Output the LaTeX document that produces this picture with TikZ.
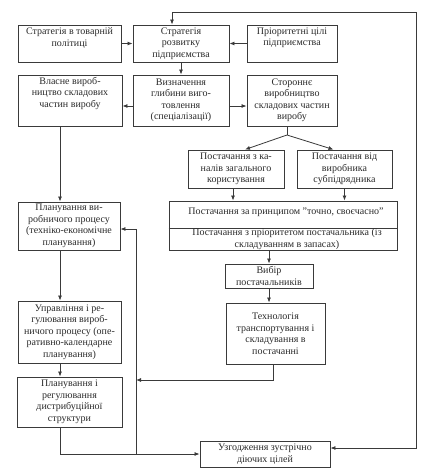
\documentclass[tikz,border=0pt]{standalone}
\usepackage{fontspec}
\setmainfont{Liberation Serif}
\usetikzlibrary{arrows.meta}
\definecolor{lc}{HTML}{3A3A3A}
\definecolor{tc}{HTML}{2A2A2A}
\begin{document}
\begin{tikzpicture}[x=1pt,y=-1pt,
  box/.style={draw=lc, line width=0.9pt, inner sep=1pt, align=center,
    font=\fontsize{10}{11.5}\selectfont, text=tc},
  txt/.style={inner sep=0pt, align=center, font=\fontsize{10}{11.5}\selectfont, text=tc},
  arr/.style={draw=lc, line width=0.8pt, -{Latex[length=5pt,width=4pt]}},
  dbl/.style={draw=lc, line width=0.8pt, {Latex[length=5pt,width=4pt]}-{Latex[length=5pt,width=4pt]}},
  ln/.style={draw=lc, line width=0.8pt}]
\useasboundingbox[fill=white] (0,0) rectangle (442,474);

% top row
\node[box, minimum width=103pt, minimum height=37pt] (b1) at (69.5,43.5) {};
\node[txt, anchor=north] (b1t) at ([yshift=-3pt]b1.north) {Стратегія в товарній\\політиці};
\node[box, minimum width=96pt, minimum height=37pt] (b2) at (181,43.5) {Стратегія\\розвитку\\підприємства};
\node[box, minimum width=90pt, minimum height=37pt] (b3) at (292,43.5) {};
\node[txt, anchor=north] (b3t) at ([yshift=-3pt]b3.north) {Пріоритетні цілі\\підприємства};

% second row
\node[box, minimum width=104pt, minimum height=51pt] (b4) at (70,100.5) {};
\node[txt, anchor=north] (b4t) at ([yshift=-2.5pt]b4.north) {Власне вироб-\\ництво складових\\частин виробу};
\node[box, minimum width=96pt, minimum height=51pt] (b5) at (181,100.5) {Визначення\\глибини виго-\\товлення\\(спеціалізації)};
\node[box, minimum width=90pt, minimum height=51pt] (b6) at (292,100.5) {Стороннє\\виробництво\\складових частин\\виробу};

% supply
\node[box, minimum width=96pt, minimum height=38pt] (b7) at (236,169) {Постачання з ка-\\налів загального\\користування};
\node[box, minimum width=95pt, minimum height=38pt] (b8) at (344.5,169) {Постачання від\\виробника\\субпідрядника};
\node[box, minimum width=228pt, minimum height=49pt] (b9) at (283,225.5) {};
\coordinate (d) at (0,228);
\draw[ln] (b9.west |- d) -- (b9.east |- d);
\node[txt] (b9a) at (286,212) {Постачання за принципом "точно, своєчасно"};
\node[txt] (b9b) at (287,239) {Постачання з пріоритетом постачальника (із\\складуванням в запасах)};
\node[box, minimum width=88pt, minimum height=24pt] (b10) at (269,276) {Вибір\\постачальників};
\node[box, minimum width=99pt, minimum height=61pt] (b11) at (275.5,333.5) {Технологія\\транспортування і\\складування в\\постачанні};

% left column
\node[box, minimum width=102pt, minimum height=48pt] (p1) at (69,226) {Планування ви-\\робничого процесу\\(техніко-економічне\\планування)};
\node[box, minimum width=103pt, minimum height=62pt] (p2) at (69.5,332) {Управління і ре-\\гулювання вироб-\\ничого процесу (опе-\\ративно-календарне\\планування)};
\node[box, minimum width=105pt, minimum height=50pt] (p3) at (69.5,402) {Планування і\\регулювання\\дистрибуційної\\структури};

\node[box, minimum width=130pt, minimum height=26pt] (u) at (265,454) {Узгодження зустрічно\\діючих цілей};

% coordinates
\coordinate (c60) at (60,0);
\coordinate (sp) at (287,135);
\coordinate (j1) at (136,380);
\coordinate (v0) at (136,454);
\coordinate (r1) at (416,448);
\coordinate (r2) at (416,12);
\coordinate (r3) at (172,12);

% connectors top
\draw[arr] (b1.east) -- (b2.west);
\draw[arr] (b3.west) -- (b2.east);
\draw[arr] (b2.south) -- (b5.north);
\draw[arr] ([yshift=-5.5pt]b5.west) -- ([yshift=-5.5pt]b4.east);
\draw[arr] ([yshift=-5.5pt]b5.east) -- ([yshift=-5.5pt]b6.west);

% branch
\draw[ln] (sp |- b6.south) -- (sp);
\draw[arr] (sp) -- ([xshift=9pt]b7.north);
\draw[arr] (sp) -- ([xshift=-11pt]b8.north);
\draw[arr] ([xshift=-3pt]b7.south) -- ([xshift=-3pt]b7.south |- b9.north);
\draw[arr] (b8.south) -- (b8.south |- b9.north);
\draw[arr] (b10.north |- b9.south) -- (b10.north);
\draw[arr] (b10.south) -- (b10.south |- b11.north);
\draw[arr] ([xshift=-2.5pt]b11.south) |- (j1);

% left column
\draw[arr] (b4.south -| c60) -- (p1.north -| c60);
\draw[arr] (p1.south -| c60) -- (p2.north -| c60);
\draw[arr] (p2.south -| c60) -- (p3.north -| c60);
\draw[arr] (p3.south -| c60) |- (u.west);
\draw[arr] (v0) |- ([yshift=-3pt]p1.east);

% big feedback loop
\draw[dbl] ([yshift=6pt]u.east) -- (r1) -- (r2) -- (r3) -- ([xshift=-9pt]b2.north);
\end{tikzpicture}
\end{document}
